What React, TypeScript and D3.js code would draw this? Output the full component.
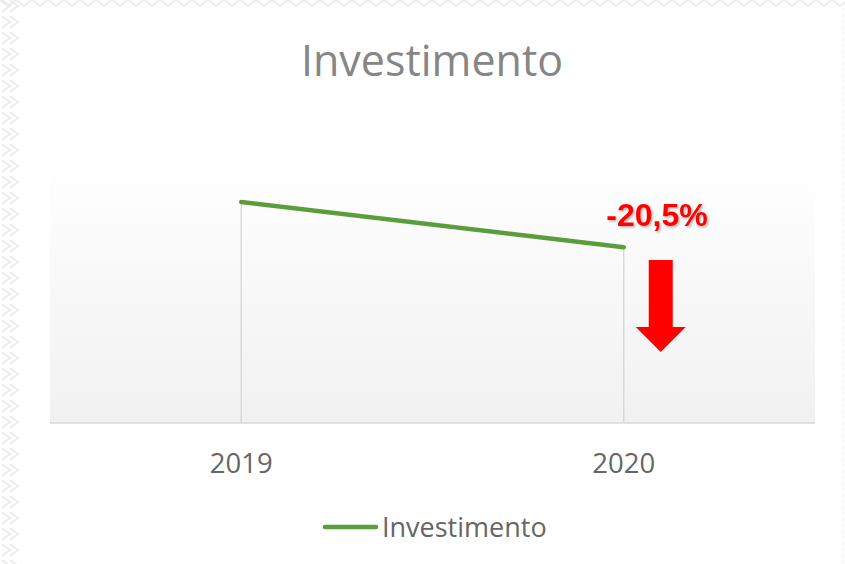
import React from "react";
import * as d3 from "d3";

const categories = ["2019", "2020"];
const values = [100, 79.5];
const seriesName = "Investimento";
const changeLabel = "-20,5%";

const W = 845, H = 564;
const plot = { left: 50, right: 815, top: 160, bottom: 423 };

export default function App() {
  const x = d3.scaleBand<string>().domain(categories).range([plot.left, plot.right]);
  const y = d3.scaleLinear().domain([0, 119]).range([plot.bottom, plot.top]);
  const cx = (c: string) => (x(c) as number) + x.bandwidth() / 2;
  const line = d3.line<number>().x((_, i) => cx(categories[i])).y((v) => y(v));

  const lastX = cx(categories[1]);
  const ax = lastX + 37;
  const arrow = `M${ax - 12},260 L${ax + 12},260 L${ax + 12},327 L${ax + 25},327 L${ax},352 L${ax - 25},327 L${ax - 12},327 Z`;

  const chevTop = d3.range(0, W, 16).map((i) => `M${i},0 L${i + 8},6 L${i + 16},0`).join(" ");
  const chevLeft = d3.range(0, H, 16).map((j) => `M2,${j} L10,${j + 6} L2,${j + 12} M10,${j} L18,${j + 6} L10,${j + 12}`).join(" ");

  return (
    <svg width={W} height={H} style={{ position: "absolute", left: 0, top: 0, background: "#fff" }}>
      <defs>
        <linearGradient id="pg" x1="0" y1="0" x2="0" y2="1">
          <stop offset="0" stopColor="#ffffff" />
          <stop offset="1" stopColor="#f1f1f1" />
        </linearGradient>
        <filter id="sh" x="-20%" y="-20%" width="140%" height="140%">
          <feDropShadow dx="1.5" dy="1.5" stdDeviation="1" floodColor="#000" floodOpacity="0.3" />
        </filter>
      </defs>
      <path d={chevTop} stroke="#ececec" strokeWidth={2} fill="none" />
      <path d={chevLeft} stroke="#ececec" strokeWidth={2} fill="none" />
      <line x1={843} x2={843} y1={8} y2={H} stroke="#eeeeee" strokeWidth={1} strokeDasharray="3,3" />
      <text x={432} y={76} textAnchor="middle" fontFamily="'Open Sans', sans-serif" fontSize={43} fill="#868686">{seriesName}</text>
      <rect x={plot.left} y={plot.top} width={plot.right - plot.left} height={plot.bottom - plot.top} fill="url(#pg)" />
      {categories.map((c, i) => (
        <line key={c} x1={cx(c)} x2={cx(c)} y1={y(values[i])} y2={plot.bottom} stroke="#d9d9d9" strokeWidth={1.5} />
      ))}
      <line x1={plot.left} x2={plot.right} y1={plot.bottom} y2={plot.bottom} stroke="#d9d9d9" strokeWidth={1.5} />
      {categories.map((c) => (
        <text key={c} x={cx(c)} y={473} textAnchor="middle" fontFamily="'Open Sans', sans-serif" fontSize={27.5} fill="#666666">{c}</text>
      ))}
      <path d={line(values) || ""} fill="none" stroke="#5a9e3c" strokeWidth={4.5} strokeLinecap="round" />
      <text x={657} y={226} textAnchor="middle" fontFamily="'Liberation Sans', Arial, sans-serif" fontWeight="bold" fontSize={32} fill="#ff0000" filter="url(#sh)">{changeLabel}</text>
      <path d={arrow} fill="#ff0000" />
      <line x1={325} x2={376} y1={527} y2={527} stroke="#5a9e3c" strokeWidth={4.5} strokeLinecap="round" />
      <text x={382} y={537} fontFamily="'Open Sans', sans-serif" fontSize={27} fill="#666666">{seriesName}</text>
    </svg>
  );
}
